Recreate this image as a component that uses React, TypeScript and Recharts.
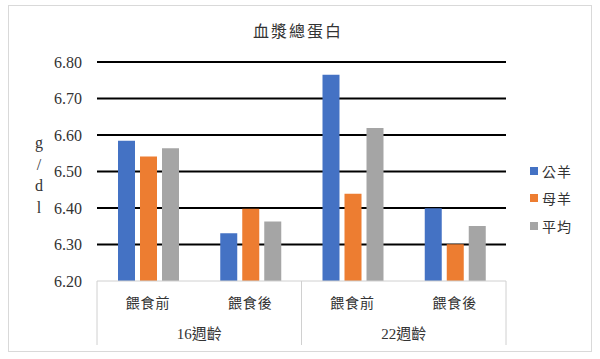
import React from 'react';
import { BarChart, Bar, XAxis, YAxis, CartesianGrid, Customized } from 'recharts';

const categories = ['餵食前', '餵食後', '餵食前', '餵食後'];
const groupLabels = ['16週齡', '22週齡'];
const ram = [6.584, 6.331, 6.765, 6.399];
const ewe = [6.541, 6.398, 6.439, 6.301];
const avg = [6.564, 6.363, 6.619, 6.351];
const yTicks = [6.2, 6.3, 6.4, 6.5, 6.6, 6.7, 6.8];
const gridValues = [6.3, 6.4, 6.5, 6.6, 6.7, 6.8];
const seriesNames = ['公羊', '母羊', '平均'];
const colors = ['#4472C4', '#ED7D31', '#A5A5A5'];
const title = '血漿總蛋白';
const yLabelChars = ['g', '/', 'd', 'l'];

const data = categories.map((c, i) => ({
  id: `${i}`,
  cat: c,
  ram: ram[i],
  ewe: ewe[i],
  avg: avg[i],
}));

const W = 600;
const H = 359;
const PLOT_LEFT = 97;
const PLOT_RIGHT = 506;
const PLOT_TOP = 62;
const PLOT_BOTTOM = 281;
const BAND = (PLOT_RIGHT - PLOT_LEFT) / categories.length;
const CJK = '"Noto Sans CJK TC", "Noto Sans CJK SC", sans-serif';
const SERIF = '"Liberation Serif", "Times New Roman", "Noto Sans CJK TC", serif';
const TEXT = '#333333';

const XTick = (props: any) => {
  const { x, index } = props;
  const els: React.ReactNode[] = [];
  els.push(
    <text key="t" x={x} y={308} textAnchor="middle" fontFamily={CJK} fontSize={14} letterSpacing={1} fill={TEXT}>
      {categories[index]}
    </text>
  );
  if (index % 2 === 0) {
    els.push(
      <line key="l" x1={x - BAND / 2} x2={x - BAND / 2} y1={PLOT_BOTTOM} y2={345} stroke="#d0d0d0" strokeWidth={1} />
    );
    els.push(
      <text key="g" x={x + BAND / 2} y={339} textAnchor="middle" fontFamily={SERIF} fontSize={15} fill={TEXT}>
        {groupLabels[index / 2]}
      </text>
    );
  }
  if (index === categories.length - 1) {
    els.push(
      <line key="r" x1={x + BAND / 2} x2={x + BAND / 2} y1={PLOT_BOTTOM} y2={345} stroke="#d0d0d0" strokeWidth={1} />
    );
  }
  return <g>{els}</g>;
};

const LegendBox = () => (
  <div style={{ position: 'absolute', left: 530, top: 157, display: 'flex', flexDirection: 'column' }}>
    {seriesNames.map((n, i) => (
      <div key={n} style={{ display: 'flex', alignItems: 'center', height: 27.5 }}>
        <span style={{ display: 'inline-block', width: 8, height: 8, background: colors[i], marginRight: 4 }} />
        <span style={{ fontFamily: CJK, fontSize: 14, letterSpacing: 1, color: TEXT, lineHeight: '16px' }}>{n}</span>
      </div>
    ))}
  </div>
);

const Title = () => (
  <text x={298} y={37} textAnchor="middle" fontFamily={CJK} fontSize={16} letterSpacing={2} fill={TEXT}>
    {title}
  </text>
);

const YLabel = () => (
  <g>
    {yLabelChars.map((c, i) => (
      <text key={i} x={39} y={148 + i * 21.5} textAnchor="middle" fontFamily={SERIF} fontSize={16} fill={TEXT}>
        {c}
      </text>
    ))}
  </g>
);

export default function App() {
  return (
    <div style={{ position: 'absolute', left: 0, top: 0, width: W, height: H, background: '#fff' }}>
      <div
        style={{
          position: 'absolute',
          left: 8,
          top: 5,
          width: 582,
          height: 345,
          border: '1px solid #d9d9d9',
        }}
      />
      <div style={{ position: 'absolute', left: 0, top: 0 }}>
        <BarChart
          width={W}
          height={H}
          data={data}
          margin={{ top: PLOT_TOP, bottom: 0, left: 0, right: W - PLOT_RIGHT }}
          barSize={17}
          barGap={5}
        >
          <CartesianGrid vertical={false} horizontalValues={gridValues} stroke="#000" strokeWidth={1.8} />
          <XAxis
            dataKey="id"
            interval={0}
            tickLine={false}
            axisLine={{ stroke: '#d0d0d0', strokeWidth: 1 }}
            height={H - PLOT_BOTTOM}
            tick={<XTick />}
          />
          <YAxis
            type="number"
            domain={[6.2, 6.8]}
            ticks={yTicks}
            interval={0}
            width={PLOT_LEFT}
            axisLine={false}
            tickLine={false}
            tickMargin={9}
            tickFormatter={(v: number) => v.toFixed(2)}
            tick={{ fontFamily: SERIF, fontSize: 16, fill: TEXT }}
            allowDataOverflow
          />
          <Bar dataKey="ram" name={seriesNames[0]} fill={colors[0]} isAnimationActive={false} />
          <Bar dataKey="ewe" name={seriesNames[1]} fill={colors[1]} isAnimationActive={false} />
          <Bar dataKey="avg" name={seriesNames[2]} fill={colors[2]} isAnimationActive={false} />
          <Customized component={Title} />
          <Customized component={YLabel} />
        </BarChart>
      </div>
      <LegendBox />
    </div>
  );
}
